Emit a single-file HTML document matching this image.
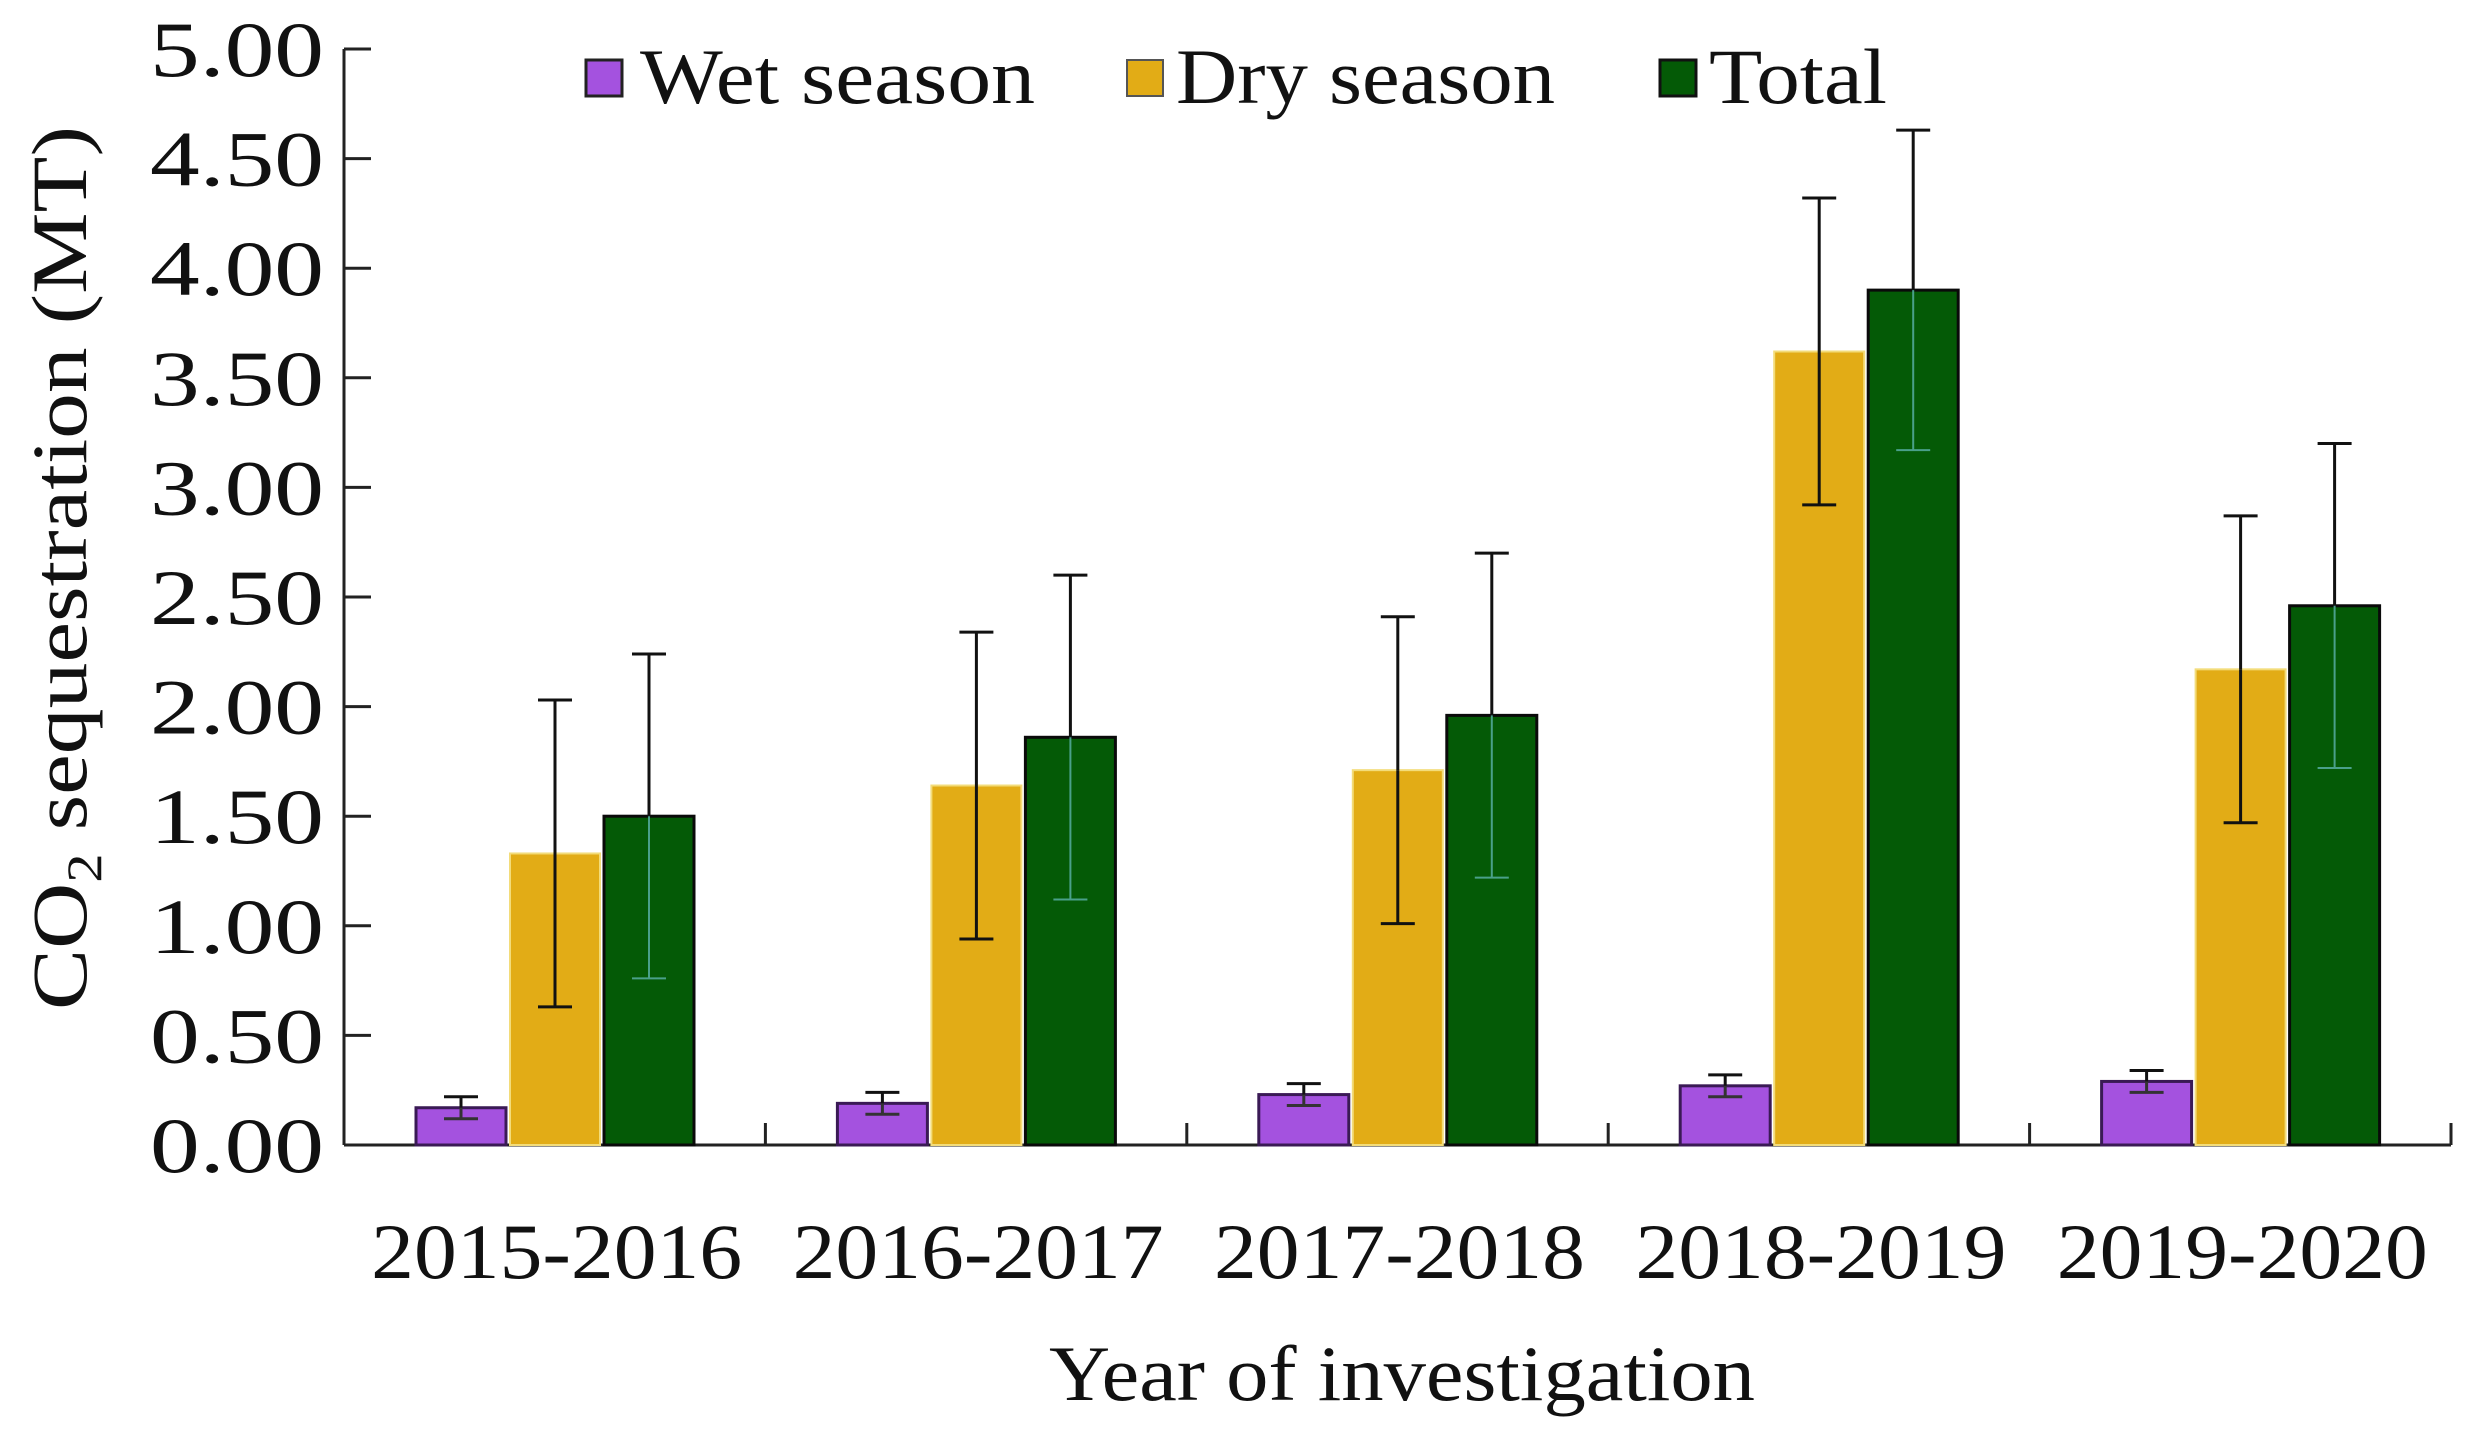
<!DOCTYPE html>
<html><head><meta charset="utf-8"><style>
html,body{margin:0;padding:0;background:#fff;}
svg{display:block;font-family:"Liberation Serif",serif;}
</style></head><body>
<svg id="chart" width="2475" height="1433" viewBox="0 0 2475 1433" xmlns="http://www.w3.org/2000/svg">
<g id="axes"></g><g id="bars"></g>
<text x="1402" y="1400" font-size="78" text-anchor="middle" textLength="706" lengthAdjust="spacingAndGlyphs" fill="#111">Year of investigation</text>
<text transform="translate(86,568) rotate(-90)" font-size="78" text-anchor="middle" textLength="884" lengthAdjust="spacingAndGlyphs" fill="#111">CO<tspan font-size="50" dy="15">2</tspan><tspan dy="-15"> sequestration (MT)</tspan></text>
<g font-size="78" fill="#111">
<rect x="586" y="60" width="36" height="36" fill="#a452df" stroke="#222" stroke-width="3"/>
<text x="640" y="103" textLength="395" lengthAdjust="spacingAndGlyphs">Wet season</text>
<rect x="1127" y="60" width="36" height="36" fill="#e2ac16" stroke="#555" stroke-width="2"/>
<text x="1176" y="103" textLength="379" lengthAdjust="spacingAndGlyphs">Dry season</text>
<rect x="1660" y="60" width="36" height="36" fill="#045a06" stroke="#111" stroke-width="3"/>
<text x="1709" y="103" textLength="178" lengthAdjust="spacingAndGlyphs">Total</text>
</g>
</svg>
<script>
const categories = ["2015-2016","2016-2017","2017-2018","2018-2019","2019-2020"];
const wet = [0.17,0.19,0.23,0.27,0.29];
const wetErr = [0.05,0.05,0.05,0.05,0.05];
const dry = [1.33,1.64,1.71,3.62,2.17];
const dryErr = [0.70,0.70,0.70,0.70,0.70];
const total = [1.50,1.86,1.96,3.90,2.46];
const totalErr = [0.74,0.74,0.74,0.73,0.74];
const yTicks = [0,0.5,1,1.5,2,2.5,3,3.5,4,4.5,5];
const yTickLabels = ["0.00","0.50","1.00","1.50","2.00","2.50","3.00","3.50","4.00","4.50","5.00"];

const NS="http://www.w3.org/2000/svg";
const X0=344, X1=2451, Y0=1145, YT=49, YMAX=5;
const gw=(X1-X0)/categories.length;
const y=v=>Y0-(v/YMAX)*(Y0-YT);
function mk(tag,attrs,parent){const e=document.createElementNS(NS,tag);for(const k in attrs)e.setAttribute(k,attrs[k]);parent.appendChild(e);return e;}
const axes=document.getElementById('axes'), bars=document.getElementById('bars');
let ax=mk('line',{x1:X0,y1:YT,x2:X0,y2:Y0,stroke:'#222','stroke-width':3},axes);


let xa=mk('line',{x1:X0,y1:Y0,x2:X1,y2:Y0,stroke:'#222','stroke-width':3},axes);


yTicks.forEach((t,i)=>{
  const tk=mk('line',{x1:X0,y1:y(t),x2:X0+27,y2:y(t),stroke:'#222','stroke-width':3},axes);
  
  
  const tx=mk('text',{x:324,y:y(t)+27,'font-size':78,'text-anchor':'end',textLength:174,lengthAdjust:'spacingAndGlyphs',fill:'#111'},axes);
  tx.textContent=yTickLabels[i];
  
  
});
categories.forEach((c,i)=>{
  const bx=X0+gw*(i+1);
  const tk=mk('line',{x1:bx,y1:Y0,x2:bx,y2:Y0-22,stroke:'#222','stroke-width':3},axes);
  
  
  const tx=mk('text',{x:X0+gw*i+gw/2+2,y:1278,'font-size':78,'text-anchor':'middle',textLength:371,lengthAdjust:'spacingAndGlyphs',fill:'#111'},axes);
  tx.textContent=c;
  
  
});
const series=[
  {name:'wet',vals:wet,err:wetErr,fill:'#a452df',stroke:'#3a1a55',sw:3,off:72,errIn:'#333'},
  {name:'dry',vals:dry,err:dryErr,fill:'#e2ac16',stroke:'#f3dc7a',sw:2,off:166,errIn:'#111'},
  {name:'total',vals:total,err:totalErr,fill:'#045a06',stroke:'#0a0a0a',sw:3,off:260,errIn:'#4aa08a'}
];
const BW=90;
series.forEach(s=>{
  s.vals.forEach((v,i)=>{
    const x=X0+gw*i+s.off;
    const r=mk('rect',{x:x,y:y(v),width:BW,height:Y0-y(v),fill:s.fill,stroke:s.stroke,'stroke-width':s.sw},bars);
    
    
    const cx=x+BW/2, hi=y(v+s.err[i]), lo=y(v-s.err[i]);
    const g=mk('g',{},bars);
    
    
    mk('line',{x1:cx,y1:hi,x2:cx,y2:y(v),stroke:'#111','stroke-width':3},g);
    mk('line',{x1:cx,y1:y(v),x2:cx,y2:lo,stroke:s.errIn,'stroke-width':s.name==='total'?2:3},g);
    mk('line',{x1:cx-17,y1:hi,x2:cx+17,y2:hi,stroke:'#111','stroke-width':3},g);
    mk('line',{x1:cx-17,y1:lo,x2:cx+17,y2:lo,stroke:s.errIn,'stroke-width':s.name==='total'?2:3},g);
  });
});
</script>
</body></html>
